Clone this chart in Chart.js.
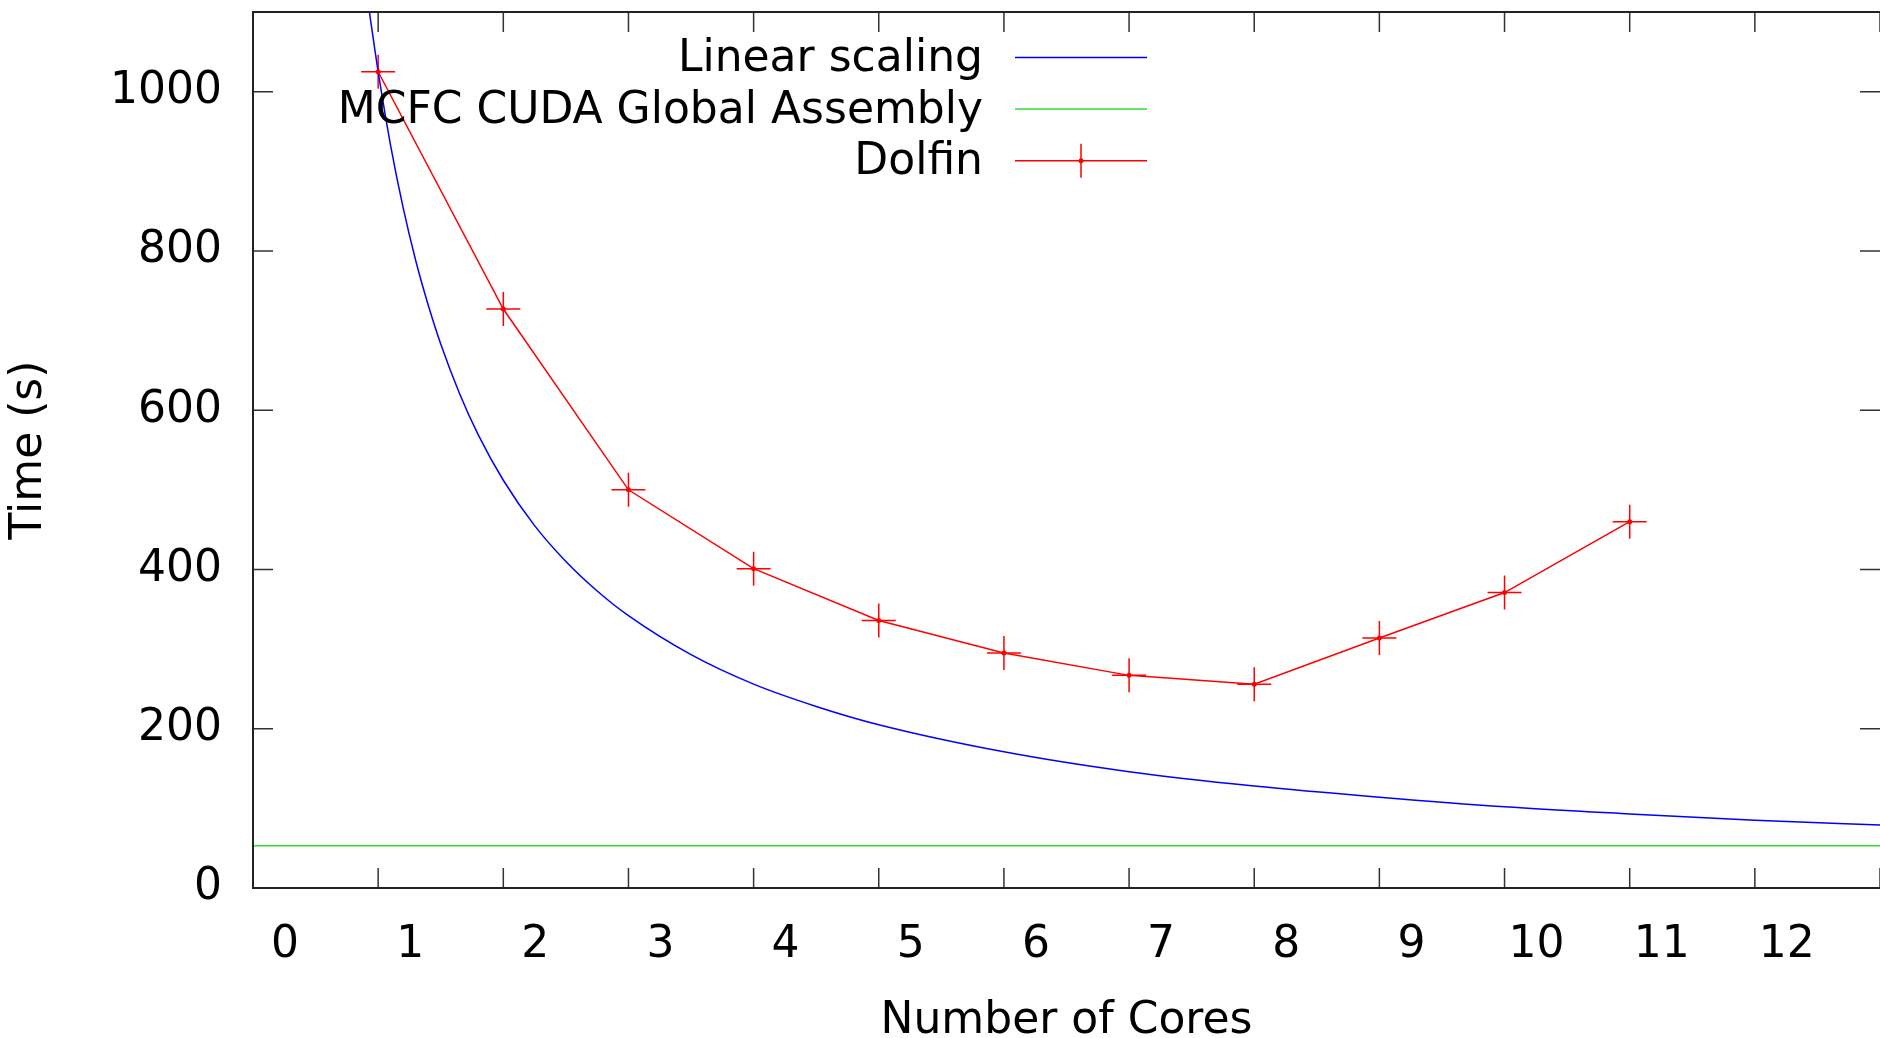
<!DOCTYPE html>
<html>
<head>
<meta charset="utf-8">
<script src="https://cdn.jsdelivr.net/npm/chart.js@4.4.0/dist/chart.umd.min.js"></script>
<style>
  html, body { margin: 0; padding: 0; background: #fff; overflow: hidden; }
  #wrap { width: 1880px; height: 1038px; }
</style>
</head>
<body>
<div id="wrap"><canvas id="chart"></canvas></div>
<script>
// values
const coreTicks = [0, 1, 2, 3, 4, 5, 6, 7, 8, 9, 10, 11, 12, 13];
const timeTicks = [0, 200, 400, 600, 800, 1000];

const linearCores = [0.93, 1, 1.1, 1.2, 1.3, 1.4, 1.5, 1.65, 1.8, 2, 2.25, 2.5, 2.75, 3, 3.5, 4, 4.5, 5, 6, 7, 8, 9, 10, 11, 12, 13];
const linearTime = [1100, 1025, 932, 854, 788, 732, 683, 621, 569, 512, 455, 410, 373, 342, 293, 256, 228, 205, 171, 146, 128, 114, 102, 93, 85, 79];

const cudaCores = [0, 13];
const cudaTime = [53, 53];

const dolfinCores = [1, 2, 3, 4, 5, 6, 7, 8, 9, 10, 11];
const dolfinTime = [1025, 727, 500, 401, 336, 295, 267, 256, 314, 371, 460];

const FONT = "DejaVu Sans";

function toPoints(xs, ys) {
  return xs.map((x, i) => ({ x: x, y: ys[i] }));
}

// gnuplot style frame with inward ticks on all four sides
const framePlugin = {
  id: "frame",
  afterDatasetsDraw(chart) {
    const ctx = chart.ctx;
    const area = chart.chartArea;
    const xs = chart.scales.x;
    const ys = chart.scales.y;
    const len = 20;
    ctx.save();
    ctx.strokeStyle = "#333";
    ctx.lineWidth = 1.5;
    ctx.beginPath();
    coreTicks.forEach((v) => {
      const px = xs.getPixelForValue(v);
      ctx.moveTo(px, area.bottom);
      ctx.lineTo(px, area.bottom - len);
      ctx.moveTo(px, area.top);
      ctx.lineTo(px, area.top + len);
    });
    timeTicks.forEach((v) => {
      const py = ys.getPixelForValue(v);
      ctx.moveTo(area.left, py);
      ctx.lineTo(area.left + len, py);
      ctx.moveTo(area.right, py);
      ctx.lineTo(area.right - len, py);
    });
    ctx.stroke();
    ctx.lineWidth = 2;
    ctx.strokeStyle = "#222";
    ctx.beginPath();
    ctx.moveTo(area.right + 2, area.top);
    ctx.lineTo(area.left, area.top);
    ctx.lineTo(area.left, area.bottom);
    ctx.lineTo(area.right + 2, area.bottom);
    ctx.stroke();

    // small dot in the middle of each Dolfin cross
    const meta = chart.getDatasetMeta(2);
    ctx.fillStyle = "#ff0000";
    meta.data.forEach((pt) => {
      ctx.beginPath();
      ctx.arc(pt.x, pt.y, 2.5, 0, Math.PI * 2);
      ctx.fill();
    });
    ctx.restore();
  },
};

// key in the top left, text right aligned with the sample on its right
const keyPlugin = {
  id: "key",
  afterDraw(chart) {
    const ctx = chart.ctx;
    const textRight = 983;
    const x1 = 1015;
    const x2 = 1147;
    const top = 57.5;
    const step = 51.6;
    ctx.save();
    ctx.font = "44px '" + FONT + "'";
    ctx.textAlign = "right";
    ctx.textBaseline = "middle";
    chart.data.datasets.forEach((ds, i) => {
      const y = top + i * step;
      ctx.fillStyle = "#000";
      ctx.fillText(ds.label, textRight, y + 2);
      ctx.strokeStyle = ds.borderColor;
      ctx.lineWidth = 1.5;
      ctx.beginPath();
      ctx.moveTo(x1, y);
      ctx.lineTo(x2, y);
      if (ds.pointStyle === "cross") {
        const mid = (x1 + x2) / 2;
        ctx.moveTo(mid, y - 17);
        ctx.lineTo(mid, y + 17);
      }
      ctx.stroke();
      if (ds.pointStyle === "cross") {
        ctx.fillStyle = ds.borderColor;
        ctx.beginPath();
        ctx.arc((x1 + x2) / 2, y, 2.5, 0, Math.PI * 2);
        ctx.fill();
      }
    });
    ctx.restore();
  },
};

const ctx = document.getElementById("chart").getContext("2d");
const chart = new Chart(ctx, {
  type: "line",
  data: {
    datasets: [
      {
        label: "Linear scaling",
        data: toPoints(linearCores, linearTime),
        borderColor: "#0000ff",
        borderWidth: 1.5,
        pointRadius: 0,
        cubicInterpolationMode: "monotone",
        fill: false,
      },
      {
        label: "MCFC CUDA Global Assembly",
        data: toPoints(cudaCores, cudaTime),
        borderColor: "#33dd33",
        borderWidth: 1.5,
        pointRadius: 0,
        fill: false,
      },
      {
        label: "Dolfin",
        data: toPoints(dolfinCores, dolfinTime),
        borderColor: "#ff0000",
        borderWidth: 1.5,
        pointStyle: "cross",
        pointRadius: 17,
        pointBorderWidth: 1.5,
        pointBorderColor: "#ff0000",
        pointHoverRadius: 17,
        fill: false,
      },
    ],
  },
  options: {
    responsive: true,
    maintainAspectRatio: false,
    animation: false,
    events: [],
    layout: { autoPadding: false, padding: { top: 12, right: 0, bottom: 0, left: 0 } },
    plugins: {
      legend: { display: false },
      tooltip: { enabled: false },
    },
    scales: {
      x: {
        type: "linear",
        min: 0,
        max: 13,
        grid: { display: false, drawTicks: false, tickLength: 0 },
        border: { display: false },
        ticks: {
          stepSize: 1,
          includeBounds: false,
          autoSkip: false,
          maxRotation: 0,
          labelOffset: 32,
          padding: 31,
          color: "#000",
          font: { family: FONT, size: 44 },
          callback: (v) => (v <= 12 ? String(v) : ""),
        },
        title: {
          display: true,
          text: "Number of Cores",
          color: "#000",
          font: { family: FONT, size: 44, lineHeight: 1 },
          padding: { top: 0, bottom: -6 },
        },
        afterFit(scale) {
          scale.height = 150;
          scale.paddingLeft = 0;
          scale.paddingRight = 0;
        },
      },
      y: {
        min: 0,
        max: 1100,
        grid: { display: false, drawTicks: false, tickLength: 0 },
        border: { display: false },
        ticks: {
          stepSize: 200,
          includeBounds: false,
          padding: 31,
          color: "#000",
          font: { family: FONT, size: 44 },
          callback: (v) => String(v),
        },
        title: {
          display: true,
          text: "Time (s)",
          color: "#000",
          font: { family: FONT, size: 44, lineHeight: 1 },
          padding: { top: 8, bottom: 0 },
        },
        afterFit(scale) {
          scale.width = 253;
          scale.paddingTop = 0;
          scale.paddingBottom = 0;
        },
      },
    },
  },
  plugins: [framePlugin, keyPlugin],
});
</script>
</body>
</html>
